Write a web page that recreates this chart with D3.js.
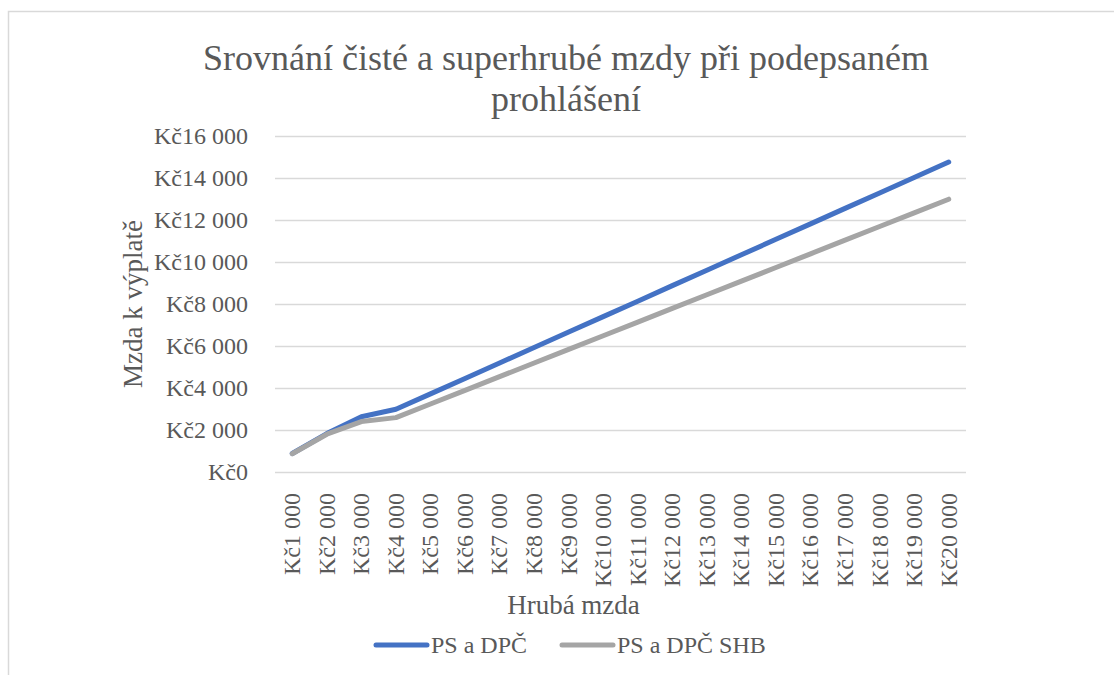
<!DOCTYPE html>
<html>
<head>
<meta charset="utf-8">
<script src="https://cdn.jsdelivr.net/npm/d3@7"></script>
<style>
  body { margin: 0; background: #fff; }
  text { font-family: "Liberation Serif", "Times New Roman", serif; fill: #595959; }
</style>
</head>
<body>
<div id="canvas"></div>
<script>
// data
var gross = [1000, 2000, 3000, 4000, 5000, 6000, 7000, 8000, 9000, 10000,
             11000, 12000, 13000, 14000, 15000, 16000, 17000, 18000, 19000, 20000];
var psDpc = [880, 1830, 2630, 2985, 3720, 4455, 5195, 5930, 6665, 7400,
             8135, 8875, 9610, 10345, 11080, 11815, 12555, 13290, 14025, 14760];
var psDpcShb = [870, 1800, 2400, 2590, 3240, 3890, 4540, 5190, 5840, 6490,
                7140, 7790, 8440, 9090, 9740, 10390, 11040, 11690, 12340, 12990];
var yTicks = [0, 2000, 4000, 6000, 8000, 10000, 12000, 14000, 16000];
var seriesNames = ['PS a DPČ', 'PS a DPČ SHB'];
var colors = ['#4472C4', '#A5A5A5'];

var W = 1114, H = 675;
var m = {t:136, r:148, b:203, l:275};
var w = W - m.l - m.r,
    h = H - m.t - m.b;

var svg = d3.select('#canvas')
    .append('svg')
    .attr('width', W)
    .attr('height', H);

// chart area border
svg.append('rect')
    .attr('x', 8.5).attr('y', 11.5)
    .attr('width', W + 20).attr('height', H + 20)
    .attr('fill', 'none')
    .attr('stroke', '#d9d9d9')
    .attr('stroke-width', 1.5);

var plot = svg.append('g')
    .attr('transform', 'translate(' + m.l + ',' + m.t + ')');

function kc(v){
    return 'Kč' + d3.format(',')(v).replace(/,/g, ' ');
}

var scaleX = d3.scaleBand()
    .domain(gross)
    .range([0, w]);
var scaleY = d3.scaleLinear()
    .domain([0, 16000])
    .range([h, 0]);

// y axis with gridlines
var axisY = d3.axisLeft()
    .scale(scaleY)
    .tickValues(yTicks)
    .tickFormat(kc)
    .tickSize(-w)
    .tickPadding(27);

var gy = plot.append('g')
    .attr('class', 'axis axis-y')
    .call(axisY);
gy.select('.domain').remove();
gy.selectAll('line')
    .attr('stroke', '#d9d9d9')
    .attr('stroke-width', 1.5);
gy.selectAll('text')
    .style('font-size', '24px')
    .style('font-family', '"Liberation Serif", serif')
    .attr('fill', '#595959')
    .attr('dy', '0.33em');

// x axis labels, rotated
var axisX = d3.axisBottom()
    .scale(scaleX)
    .tickFormat(kc)
    .tickSize(0);

var gx = plot.append('g')
    .attr('class', 'axis axis-x')
    .attr('transform', 'translate(0,' + h + ')')
    .call(axisX);
gx.select('.domain').remove();
gx.selectAll('text')
    .style('font-size', '24px')
    .style('font-family', '"Liberation Serif", serif')
    .attr('fill', '#595959')
    .attr('text-anchor', 'end')
    .attr('transform', 'rotate(-90)')
    .attr('x', -21)
    .attr('y', 0)
    .attr('dy', '0.33em');

// lines
var line = d3.line()
    .x(function(d, i){ return scaleX(gross[i]) + scaleX.bandwidth() / 2; })
    .y(function(d){ return scaleY(d); });

[psDpc, psDpcShb].forEach(function(s, i){
    plot.append('path')
        .datum(s)
        .attr('d', line)
        .attr('fill', 'none')
        .attr('stroke', colors[i])
        .attr('stroke-width', 5)
        .attr('stroke-linecap', 'round')
        .attr('stroke-linejoin', 'round');
});

// titles
var title = svg.append('text')
    .attr('text-anchor', 'middle')
    .style('font-size', '36px');
title.append('tspan').attr('x', 566).attr('y', 70)
    .text('Srovnání čisté a superhrubé mzdy při podepsaném');
title.append('tspan').attr('x', 566).attr('y', 111)
    .text('prohlášení');

svg.append('text')
    .attr('text-anchor', 'middle')
    .attr('transform', 'translate(142,' + (m.t + h / 2) + ') rotate(-90)')
    .style('font-size', '27px')
    .text('Mzda k výplatě');

svg.append('text')
    .attr('text-anchor', 'middle')
    .attr('x', m.l + w / 2 - 47)
    .attr('y', 614)
    .style('font-size', '27px')
    .text('Hrubá mzda');

// legend
var legendX = [374, 560];
var lg = svg.selectAll('.legend')
    .data(seriesNames)
    .enter()
    .append('g')
    .attr('class', 'legend')
    .attr('transform', function(d, i){ return 'translate(' + legendX[i] + ',645)'; });
lg.append('line')
    .attr('x1', 2).attr('x2', 53)
    .attr('stroke', function(d, i){ return colors[i]; })
    .attr('stroke-width', 5)
    .attr('stroke-linecap', 'round');
lg.append('text')
    .attr('x', 57)
    .attr('y', 8)
    .style('font-size', '24px')
    .text(function(d){ return d; });
</script>
</body>
</html>
